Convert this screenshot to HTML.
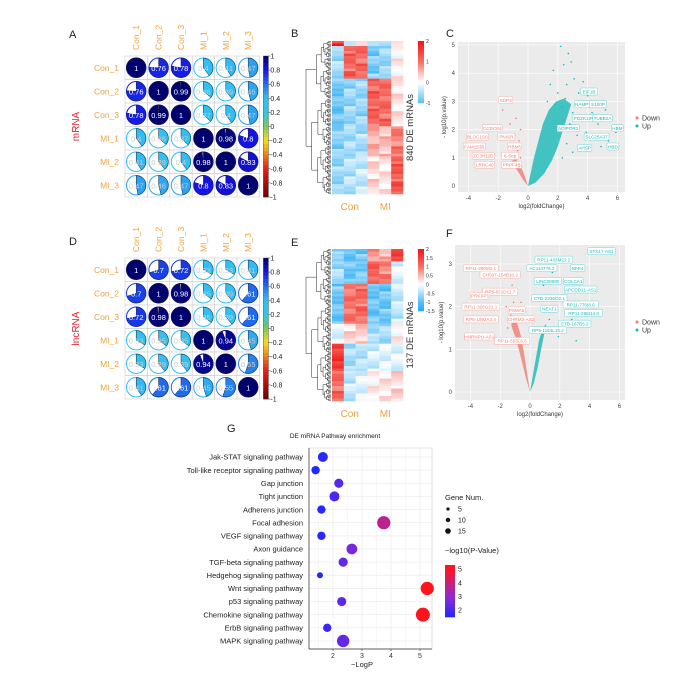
<!DOCTYPE html>
<html><head><meta charset="utf-8"><style>
html,body{margin:0;padding:0;background:#fff;width:700px;height:678px;overflow:hidden}
svg{display:block;font-family:"Liberation Sans",Arial,sans-serif}
</style></head><body>
<svg id="fig" width="700" height="678" viewBox="0 0 700 678" xmlns="http://www.w3.org/2000/svg"></svg>
<script>
// ---------- DATA ----------
const sampleNames = ["Con_1","Con_2","Con_3","MI_1","MI_2","MI_3"];
const mrnaCorr = [
 [1,0.76,0.78,0.4,0.41,0.47],
 [0.76,1,0.99,0.36,0.39,0.46],
 [0.78,0.99,1,0.37,0.4,0.47],
 [0.4,0.36,0.37,1,0.98,0.8],
 [0.41,0.39,0.4,0.98,1,0.83],
 [0.47,0.46,0.47,0.8,0.83,1]];
const lncCorr = [
 [1,0.7,0.72,0.33,0.33,0.41],
 [0.7,1,0.98,0.35,0.39,0.61],
 [0.72,0.98,1,0.35,0.39,0.61],
 [0.33,0.35,0.35,1,0.94,0.45],
 [0.33,0.39,0.39,0.94,1,0.55],
 [0.41,0.61,0.61,0.45,0.55,1]];
const corrTicks = [1,0.8,0.6,0.4,0.2,0,-0.2,-0.4,-0.6,-0.8,-1];
const heatB = [
 [0,0.03,[2,-0.5,0.5,-0.6,-0.4,0]],
 [0.03,0.25,[-0.6,1.3,1.2,-0.9,-0.7,0.1]],
 [0.25,0.55,[-1,-0.7,-0.7,1.3,1.2,0.2]],
 [0.55,0.75,[-0.8,-0.6,-0.6,0.6,0.5,1.0]],
 [0.75,1,[-0.7,-0.5,-0.4,0.3,0.2,1.4]]];
const heatE = [
 [0,0.08,[-0.8,-1,-1,0.8,0.6,1.6]],
 [0.08,0.23,[-0.6,-1,-0.9,1.3,1.0,-0.2]],
 [0.23,0.5,[-1,1.1,1.2,-1,-1,-0.4]],
 [0.5,0.63,[-0.2,0.3,0.4,-0.6,-0.6,0.1]],
 [0.63,0.8,[1.8,-0.6,-0.5,-0.3,-0.2,-0.2]],
 [0.8,1,[1.2,-0.4,-0.2,0.1,0.2,0.3]]];
const cDownLabels = [[-1.5,3.05,"SDP3"],[-2.4,2.05,"CCDC64"],[-3.4,1.75,"BLOC1S6"],[-1.45,1.75,"PNISR"],[-3.6,1.4,"FAM153B"],[-0.9,1.4,"RBM5"],[-3.0,1.07,"ZC3H12D"],[-1.2,1.07,"6-Sep"],[-2.9,0.75,"LRRC40"],[-1.1,0.75,"PRPF4B"]];
const cUpLabels = [[4.1,3.35,"EIF1B"],[3.7,2.9,"NAMPT"],[4.7,2.9,"S100P"],[3.8,2.4,"PDZK1IP1"],[5.0,2.4,"TUBB2A"],[2.7,2.05,"ADIPOR1"],[6.0,2.05,"HBM"],[4.6,1.75,"SLC25A37"],[3.8,1.35,"AHSP"],[5.7,1.4,"HBD"]];
const cUpPoints = [[2.2,4.95],[2.7,4.7],[1.7,4.1],[2.4,4.3],[2.9,4.4],[3.1,3.8],[2.6,3.6],[3.4,3.3],[3.7,3.7],[4.0,3.2],[3.2,2.9],[4.3,2.6],[4.7,2.2],[5.2,2.7],[5.9,1.9],[5.4,1.6],[4.9,1.4],[3.9,1.9],[3.6,2.3],[3.0,2.6],[2.5,3.1],[2.0,3.3],[2.3,2.8],[1.8,2.9],[1.3,3.0],[1.5,3.6],[2.8,2.2],[3.3,1.8],[2.6,1.5],[3.0,1.2],[2.3,1.0]];
const cDownPoints = [[-0.8,2.4],[-1.2,2.2],[-0.5,2.0],[-1.7,2.7],[-0.9,1.8],[-1.1,1.5],[-0.6,1.6],[-0.7,1.25],[-1.3,1.0],[-0.5,1.0]];
const fDownLabels = [[-3.3,2.9,"RP11-280M2.1"],[-2.0,2.75,"CH507-154B10.2"],[-2.0,2.35,"RP5-821D11.7"],[-3.35,2.25,"PRKXP1"],[-3.3,2.0,"RP11-326G21.1"],[-0.9,1.92,"PSMA5"],[-3.3,1.7,"RP5-1092A3.4"],[-0.6,1.7,"CHRM3-AS2"],[-3.4,1.3,"HNRNPU-AS1"],[-1.2,1.2,"RP11-553L6.5"]];
const fUpLabels = [[4.8,3.3,"STX17-AS1"],[1.6,3.1,"RP11-433M22.2"],[0.8,2.9,"AC114776.2"],[3.2,2.9,"NFE4"],[1.2,2.6,"LINC00880"],[2.9,2.6,"COLCA1"],[3.4,2.4,"APCDD1L-AS1"],[1.3,2.2,"CTD-2336O2.1"],[3.4,2.05,"RP11-776I8.6"],[1.3,1.95,"NEAT1"],[3.6,1.85,"RP11-266I14.6"],[3.0,1.6,"CTB-167B5.2"],[1.2,1.45,"RP5-1154L15.2"]];
const pathways = ["Jak-STAT signaling pathway","Toll-like receptor signaling pathway","Gap junction","Tight junction","Adherens junction","Focal adhesion","VEGF signaling pathway","Axon guidance","TGF-beta signaling pathway","Hedgehog signaling pathway","Wnt signaling pathway","p53 signaling pathway","Chemokine signaling pathway","ErbB signaling pathway","MAPK signaling pathway"];
const logP = [1.65,1.4,2.2,2.05,1.6,3.75,1.6,2.65,2.35,1.55,5.25,2.3,5.1,1.8,2.35];
const geneNum = [10,8,9,10,8,14,8,11,9,5,14,9,15,8,13];
const gXTicks = [2,3,4,5];
const sizeLegend = [5,10,15];
const colorLegendTicks = [2,3,4,5];

// ---------- HELPERS ----------
const NS="http://www.w3.org/2000/svg";
const svg=document.getElementById('fig');
function mk(tag,attrs,parent){const e=document.createElementNS(NS,tag);for(const k in attrs)e.setAttribute(k,attrs[k]);(parent||svg).appendChild(e);return e;}
function txt(s,x,y,size,fill,anchor,name,parent,extra){
 const t=mk('text',Object.assign({x:x,y:y,'font-size':size,fill:fill,'text-anchor':anchor||'start'},extra||{}),parent);
 t.textContent=s;
 
 
 return t;}
function lerp(a,b,t){return a+(b-a)*t;}
function rgb(c){return 'rgb('+c.map(Math.round).join(',')+')';}
function stopColor(stops,v){
 if(v<=stops[0][0])return rgb(stops[0][1]);
 for(let i=1;i<stops.length;i++){if(v<=stops[i][0]){const t=(v-stops[i-1][0])/(stops[i][0]-stops[i-1][0]);const a=stops[i-1][1],b=stops[i][1];return rgb([lerp(a[0],b[0],t),lerp(a[1],b[1],t),lerp(a[2],b[2],t)]);}}
 return rgb(stops[stops.length-1][1]);}
const corrStops=[[-1,[110,0,0]],[-0.6,[230,30,20]],[-0.2,[250,220,20]],[0,[120,200,90]],[0.2,[40,200,230]],[0.4,[50,190,245]],[0.6,[30,110,240]],[0.8,[20,20,230]],[1,[0,0,110]]];
const heatStops=[[-1.5,[40,170,240]],[-1,[90,190,245]],[0,[255,255,255]],[1,[245,110,100]],[2,[238,20,20]]];

// ---------- PANEL LETTERS ----------
[["A",69,38],["B",291,37],["C",446,37],["D",69,245],["E",291,246],["F",446,237],["G",227,432]].forEach(p=>{
 const t=txt(p[0],p[1],p[2],11,'#222','start','panel-label');
 
});

// ---------- CORRELATION MATRIX ----------
function corrPanel(M,x0,y0,cw,ch,side,key){
 const g=mk('g',{});
 
 
 txt(side,x0-46,y0+ch*3,10,'#e8202a','middle',key+'-side-title',g,{transform:'rotate(-90 '+(x0-46)+' '+(y0+ch*3)+')'});
 sampleNames.forEach((n,i)=>{
  txt(n,x0-6,y0+ch*i+ch/2+3,8.5,'#f0a040','end',key+'-row-label',g);
  const cx=x0+cw*i+cw/2+3, cy=y0-6;
  txt(n,cx,cy,8.5,'#f0a040','start',key+'-col-label',g,{transform:'rotate(-90 '+cx+' '+cy+')'});
 });
 M.forEach((row,i)=>row.forEach((v,j)=>{
  const x=x0+j*cw,y=y0+i*ch;
  const cell=mk('rect',{x:x,y:y,width:cw,height:ch,fill:'#fff',stroke:'#ccc','stroke-width':0.6},g);
  
  
  const cx=x+cw/2,cy=y+ch/2,r=Math.min(cw,ch)/2-1.5,col=stopColor(corrStops,v);
  const ring=mk('circle',{cx:cx,cy:cy,r:r,fill:'#fff',stroke:col,'stroke-width':1},g);
  
  
  const a=Math.abs(v)*2*Math.PI;
  if(Math.abs(v)>=0.999){const full=mk('circle',{cx:cx,cy:cy,r:r,fill:col,stroke:'#222','stroke-width':0.5},g);
   
   }
  else{
   const ex=cx+r*Math.sin(a),ey=cy-r*Math.cos(a);
   const d='M'+cx+' '+cy+' L'+cx+' '+(cy-r)+' A'+r+' '+r+' 0 '+(a>Math.PI?1:0)+' 1 '+ex+' '+ey+' Z';
   const pie=mk('path',{d:d,fill:col,stroke:'#222','stroke-width':0.5},g);
   
   }
  txt(String(v),cx,cy+3,7.5,v>0.6?'#fff':'#ccc','middle','corr-value',g);
 }));
 const bx=x0+cw*6+4,bh=ch*6;
 const nSteps=40;
 for(let k=0;k<nSteps;k++){
  const v=1-2*(k+0.5)/nSteps;
  const s=mk('rect',{x:bx,y:y0+k*bh/nSteps,width:5,height:bh/nSteps+0.3,fill:stopColor(corrStops,v)},g);
  
  
 }
 mk('rect',{x:bx,y:y0,width:5,height:bh,fill:'none',stroke:'#333','stroke-width':0.4},g);
 corrTicks.forEach(t=>{
  const yy=y0+(1-t)/2*bh;
  mk('line',{x1:bx+5,x2:bx+7,y1:yy,y2:yy,stroke:'#333','stroke-width':0.5},g);
  txt(String(t),bx+7,yy+2.5,7,'#222','start','colorbar-tick-label',g);
 });
}
corrPanel(mrnaCorr,125,56,22.4,23.5,'mRNA','mrna');
corrPanel(lncCorr,125,258,22.4,23.5,'lncRNA','lncrna');

// ---------- HEATMAPS ----------
function dendro(x0,x1,y0,y1,n,g){
 function node(a,b,depth){
  if(b-a<=1){return {x:x1,y:y0+(a+0.5)*(y1-y0)/n};}
  const m=Math.floor((a+b)/2+((depth%3)-1)*(b-a)*0.12);
  const mm=Math.max(a+1,Math.min(b-1,m));
  const L=node(a,mm,depth+1),R=node(mm,b,depth+1);
  const frac=Math.pow((b-a)/n,0.55);
  const x=Math.min(Math.min(L.x,R.x)-0.6, x1-(x1-x0)*frac);
  const p=mk('path',{d:'M'+L.x+' '+L.y+' H'+x+' V'+R.y+' H'+R.x,fill:'none',stroke:'#111','stroke-width':0.45},g);
  
  
  return {x:x,y:(L.y+R.y)/2};
 }
 node(0,n,0);
}
function heatPanel(blocks,x0,y0,w,h,key,title,ticks,tmax){
 const g=mk('g',{});
 
 
 const cw=w/6,nRows=Math.round(h/2.5);
 for(let r=0;r<nRows;r++){
  const f=(r+0.5)/nRows;
  const b=blocks.find(bl=>f>=bl[0]&&f<bl[1])||blocks[blocks.length-1];
  b[2].forEach((v,c)=>{
   const vv=v*(0.75+0.25*(((r*7+c*3)%5)/4))+(((r*13+c*11)%7)-3)*0.08;
   const cell=mk('rect',{x:x0+c*cw,y:y0+r*h/nRows,width:cw+0.3,height:h/nRows+0.3,fill:stopColor(heatStops,vv)},g);
   
   
  });
 }
 dendro(x0-26,x0-1,y0,y0+h,120,g);
 txt('Con',x0+cw*1.5,y0+h+16,10,'#f0a040','middle','group-label-con',g);
 txt('MI',x0+cw*4.5,y0+h+16,10,'#f0a040','middle','group-label-mi',g);
 const tx=x0+w+10,ty=y0+h/2+10;
 txt(title,tx,ty,9.5,'#333','middle',key+'-axis-title',g,{transform:'rotate(-90 '+tx+' '+ty+')'});
 const bx=x0+w+15,bh=62;
 for(let k=0;k<30;k++){
  const v=tmax-(tmax-ticks[ticks.length-1])*(k+0.5)/30;
  const s=mk('rect',{x:bx,y:y0+k*bh/30,width:6,height:bh/30+0.3,fill:stopColor(heatStops,v)},g);
  
  
 }
 ticks.forEach(t=>{
  const yy=y0+(tmax-t)/(tmax-ticks[ticks.length-1])*bh;
  txt(String(t),bx+8,yy+2,5,'#333','start','heat-colorbar-tick',g);
 });
}
heatPanel(heatB,332,41,71,153,'mrna','840 DE mRNAs',[2,1,0,-1],2);
heatPanel(heatE,332,249,71,152,'lncrna','137 DE mRNAs',[2,1.5,1,0.5,0,-0.5,-1,-1.5],2);

// ---------- VOLCANO ----------
function volcano(px0,py0,pw,ph,x0pix,y0pix,yUnit,yMax,downL,upL,upP,downP,key,cloudUp,cloudDown,legendY){
 const g=mk('g',{});
 
 
 const xs=v=>x0pix+v*14.9, ys=v=>y0pix-v*yUnit;
 const bg=mk('rect',{x:px0,y:py0,width:pw,height:ph,fill:'#ebebeb'},g);
 
 
 [-4,-2,0,2,4,6].forEach(t=>{
  mk('line',{x1:xs(t),x2:xs(t),y1:py0,y2:py0+ph,stroke:'#fff','stroke-width':0.6},g);
  txt(String(t),xs(t),py0+ph+8,6,'#444','middle','x-tick-label',g);
 });
 for(let t=0;t<=yMax;t++){
  mk('line',{x1:px0,x2:px0+pw,y1:ys(t),y2:ys(t),stroke:'#fff','stroke-width':0.6},g);
  txt(String(t),px0-3,ys(t)+2,6,'#444','end','y-tick-label',g);
 }
 txt('log2(foldChange)',px0+pw/2,py0+ph+16,6,'#333','middle','x-axis-title',g);
 const ax=px0-12,ay=py0+ph/2;
 txt('- log10(p.value)',ax,ay,6,'#333','middle','y-axis-title',g,{transform:'rotate(-90 '+ax+' '+ay+')'});
 const cu=mk('polygon',{points:cloudUp.map(p=>xs(p[0])+','+ys(p[1])).join(' '),fill:'#19b8b8',opacity:0.8},g);
 
 
 const cd=mk('polygon',{points:cloudDown.map(p=>xs(p[0])+','+ys(p[1])).join(' '),fill:'#f07d72',opacity:0.8},g);
 
 
 upP.forEach(p=>{const c=mk('circle',{cx:xs(p[0]),cy:ys(p[1]),r:0.8,fill:'#19b8b8'},g);
  
  });
 downP.forEach(p=>{const c=mk('circle',{cx:xs(p[0]),cy:ys(p[1]),r:0.8,fill:'#f07d72'},g);
  
  });
 function lab(L,col,nm){L.forEach(l=>{
  const w=l[2].length*2.6+4,cx=xs(l[0]),cy=ys(l[1]);
  const r=mk('rect',{x:cx-w/2,y:cy-3.5,width:w,height:7,fill:'#fff',stroke:col,'stroke-width':0.3,rx:1},g);
  
  
  txt(l[2],cx,cy+1.8,4.6,col,'middle',nm+'-gene-label',g);
 });}
 lab(downL,'#f07d72','down');
 lab(upL,'#19b8b8','up');
 const lx=px0+pw+12;
 const d1=mk('circle',{cx:lx,cy:legendY,r:1.5,fill:'#f07d72'},g);
 
 
 txt('Down',lx+5,legendY+2.5,7,'#333','start','legend-down-label',g);
 const d2=mk('circle',{cx:lx,cy:legendY+8,r:1.5,fill:'#19b8b8'},g);
 
 
 txt('Up',lx+5,legendY+10.5,7,'#333','start','legend-up-label',g);
}
volcano(458,42,167,150,528,186,28.2,5,cDownLabels,cUpLabels,cUpPoints,cDownPoints,'mrna',
 [[0,0],[0.2,0.5],[0.4,1.0],[0.7,1.6],[1.0,2.2],[1.4,2.7],[1.9,3.0],[2.4,3.1],[2.9,2.9],[2.6,2.4],[2.3,1.9],[2.0,1.4],[1.6,0.9],[1.1,0.45],[0.5,0.12]],
 [[0,0],[-0.3,0.2],[-0.6,0.45],[-0.9,0.7],[-1.1,0.9],[-0.8,0.95],[-0.5,0.7],[-0.25,0.4]],
 118);
volcano(455,245,170,155,530,392,42.7,3,fDownLabels,fUpLabels,
 [[1.3,1.7],[1.6,1.5],[1.9,1.3],[2.1,1.6],[1.2,2.2],[0.9,2.5],[1.5,2.8],[2.3,2.1],[2.8,1.7],[3.1,1.2],[1.7,2.0]],
 [[-0.9,2.3],[-1.1,2.1],[-0.8,1.9],[-1.3,1.8],[-1.0,1.6],[-1.5,1.5],[-1.6,2.0],[-1.2,2.5],[-0.6,2.1]],
 'lncrna',
 [[0,0],[0.2,0.4],[0.4,0.8],[0.6,1.2],[0.85,1.5],[1.1,1.6],[0.95,1.35],[0.75,1.0],[0.5,0.55],[0.25,0.2]],
 [[0,0],[-0.25,0.3],[-0.5,0.65],[-0.75,1.0],[-1.0,1.3],[-1.25,1.55],[-1.15,1.8],[-0.85,1.6],[-0.6,1.3],[-0.4,0.9],[-0.2,0.45]],
 322);

// ---------- PATHWAY ENRICHMENT (G) ----------
(function(){
 const g=mk('g',{});
 
 
 const px0=309,px1=432,py0=448,py1=649;
 const xs=v=>333+(v-2)*29;
 const ys=i=>457+i*13.14;
 const rs=n=>1+n*0.4;
 const cStops=[[1.5,[30,40,255]],[3,[150,40,210]],[5,[255,20,30]]];
 txt('DE mRNA Pathway enrichment',335,438,6.5,'#222','middle','chart-title',g);
 const bg=mk('rect',{x:px0,y:py0,width:px1-px0,height:py1-py0,fill:'#fff',stroke:'#ccc','stroke-width':0.6},g);
 
 
 [1.5,2,2.5,3,3.5,4,4.5,5].forEach(t=>{if(xs(t)>px0&&xs(t)<px1)mk('line',{x1:xs(t),x2:xs(t),y1:py0,y2:py1,stroke:'#ebebeb','stroke-width':t%1?0.4:0.7},g);});
 pathways.forEach((p,i)=>{
  mk('line',{x1:px0,x2:px1,y1:ys(i),y2:ys(i),stroke:'#ebebeb','stroke-width':0.7},g);
  txt(p,px0-6,ys(i)+2.7,7.5,'#222','end','pathway-label',g);
 });
 mk('line',{x1:px0,x2:px0,y1:py0,y2:py1,stroke:'#333','stroke-width':0.7},g);
 mk('line',{x1:px0,x2:px1,y1:py1,y2:py1,stroke:'#333','stroke-width':0.7},g);
 gXTicks.forEach(t=>{
  mk('line',{x1:xs(t),x2:xs(t),y1:py1,y2:py1+2,stroke:'#333','stroke-width':0.6},g);
  txt(String(t),xs(t),py1+9,7,'#333','middle','x-tick-label',g);
 });
 txt('−LogP',xs(3),py1+18,7.5,'#222','middle','x-axis-title',g);
 pathways.forEach((p,i)=>{
  const c=mk('circle',{cx:xs(logP[i]),cy:ys(i),r:rs(geneNum[i]),fill:stopColor(cStops,logP[i])},g);
  
  
 });
 txt('Gene Num.',445,500,7.5,'#222','start','size-legend-title',g);
 sizeLegend.forEach((n,k)=>{
  const c=mk('circle',{cx:448,cy:509+k*11,r:1+n*0.12,fill:'#111'},g);
  
  
  txt(String(n),458,511.5+k*11,7,'#222','start','size-legend-label',g);
 });
 txt('−log10(P-Value)',445,553,7.5,'#222','start','color-legend-title',g);
 const cb0=565,cb1=617;
 for(let k=0;k<30;k++){
  const v=5.3-(5.3-1.5)*(k+0.5)/30;
  const s=mk('rect',{x:445,y:cb0+k*(cb1-cb0)/30,width:10,height:(cb1-cb0)/30+0.3,fill:stopColor(cStops,v)},g);
  
  
 }
 colorLegendTicks.forEach(t=>{
  const yy=cb0+(5.3-t)/(5.3-1.5)*(cb1-cb0);
  txt(String(t),458,yy+2.5,7,'#222','start','color-legend-tick',g);
 });
})();
</script>
</body></html>
